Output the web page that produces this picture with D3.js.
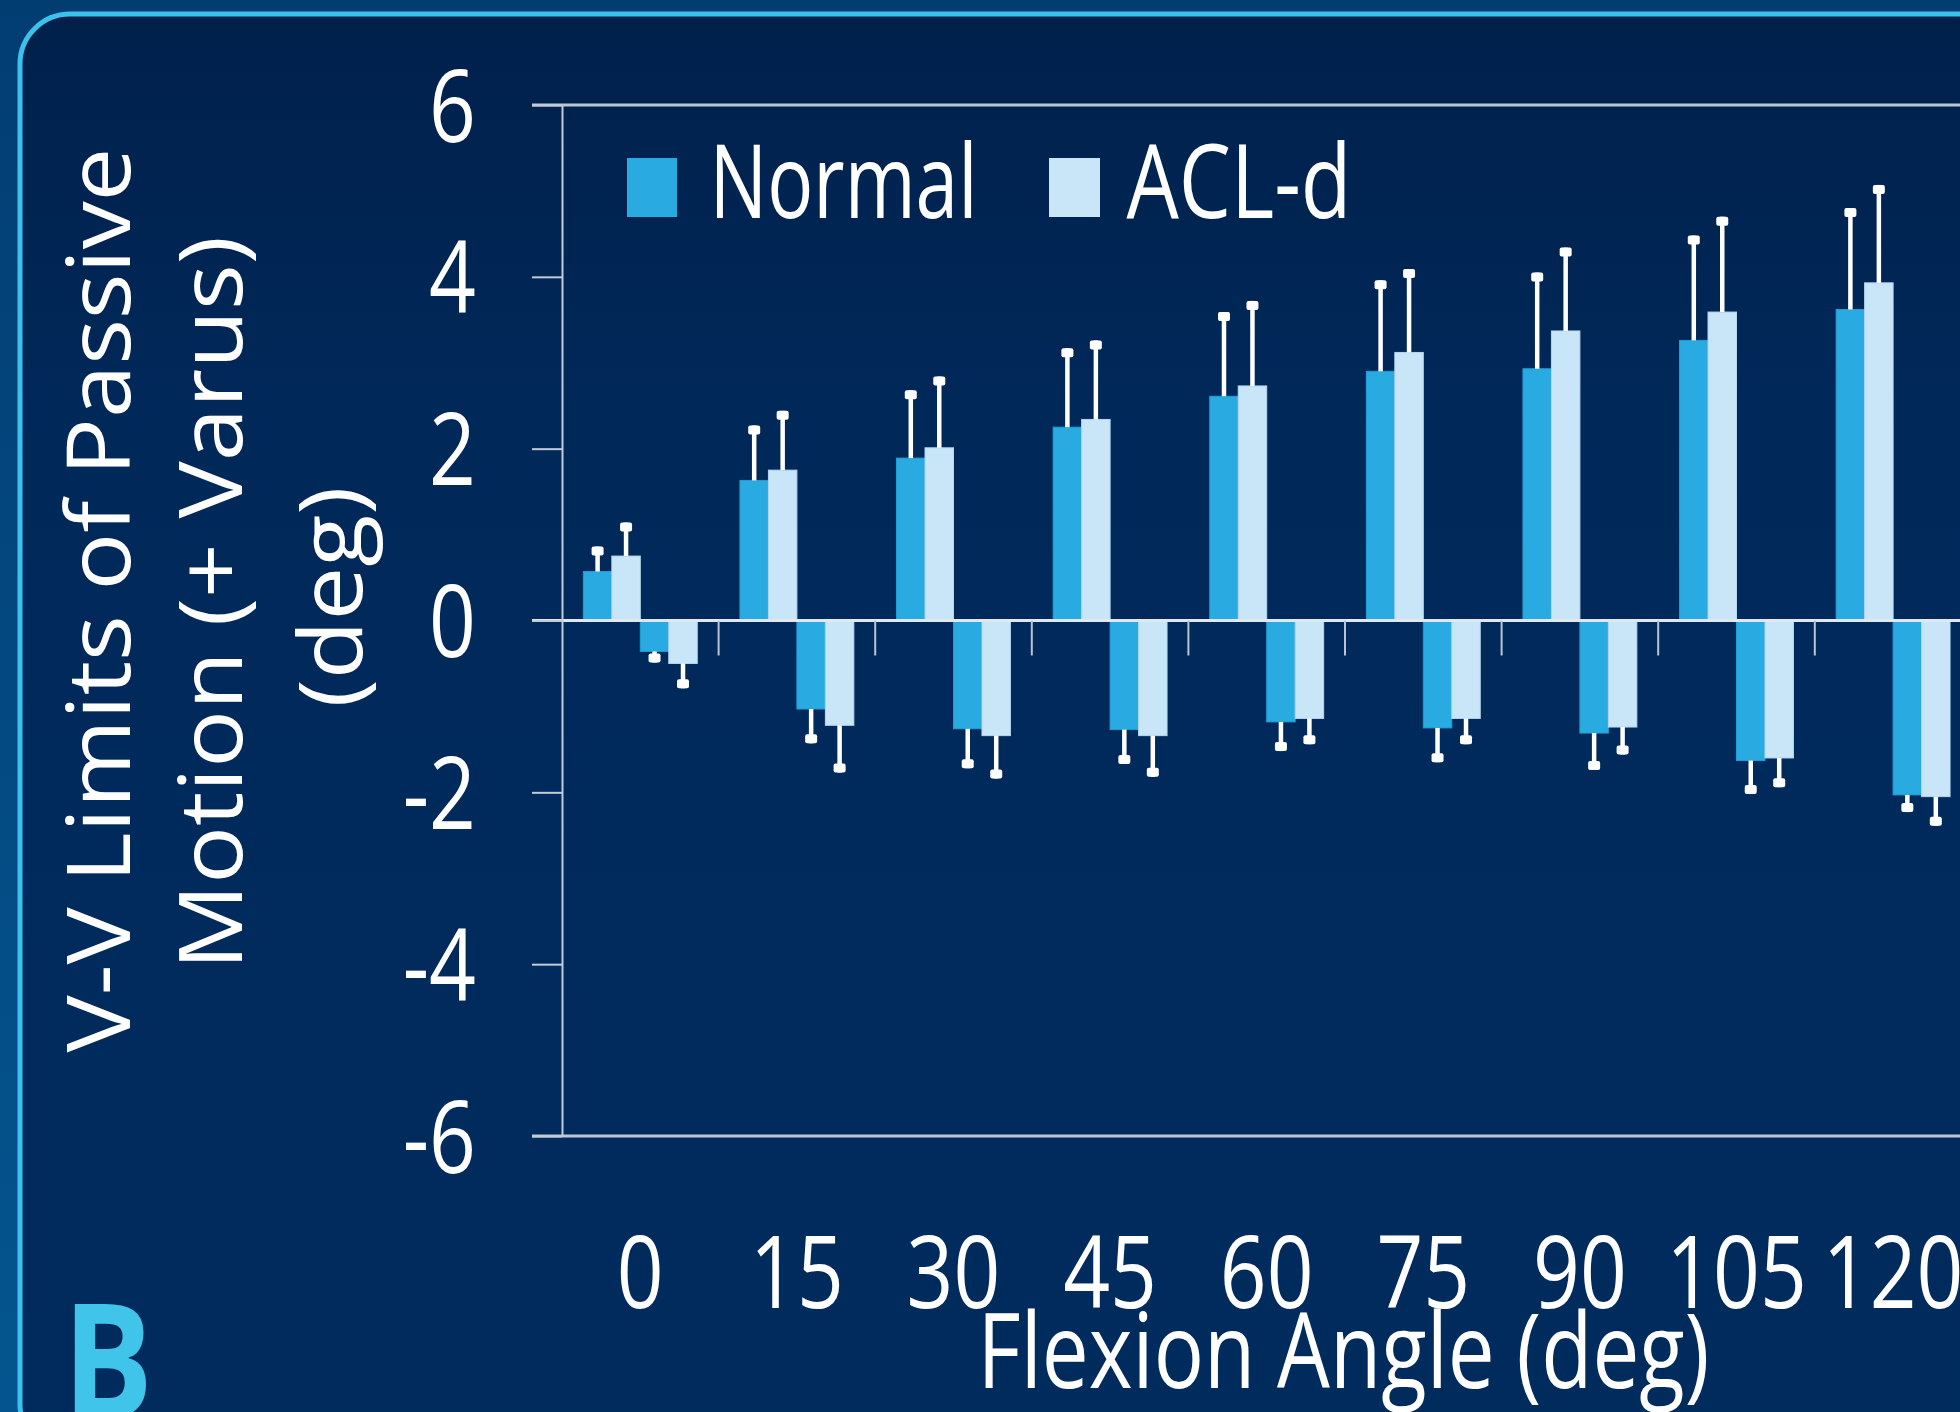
<!DOCTYPE html>
<html>
<head>
<meta charset="utf-8">
<script src="https://cdn.jsdelivr.net/npm/d3@7"></script>
<style>
  html, body { margin: 0; padding: 0; background: #03467c; }
  svg { display: block; }
  text { font-family: "Open Sans", "Noto Sans", sans-serif; fill: #ffffff; }
</style>
</head>
<body>
<svg id="chart" width="1960" height="1412"></svg>
<script>
// ---- data ----
const angles = [0, 15, 30, 45, 60, 75, 90, 105, 120];
const normalVarus   = [0.57, 1.63, 1.89, 2.25, 2.61, 2.90, 2.93, 3.26, 3.62];
const normalVarusSD = [0.29, 0.64, 0.79, 0.92, 0.98, 1.06, 1.12, 1.22, 1.18];
const aclVarus      = [0.75, 1.75, 2.01, 2.34, 2.73, 3.12, 3.37, 3.59, 3.93];
const aclVarusSD    = [0.39, 0.69, 0.83, 0.92, 0.99, 0.97, 0.97, 1.11, 1.14];
const normalValgus   = [-0.36, -1.03, -1.26, -1.27, -1.18, -1.25, -1.31, -1.63, -2.03];
const normalValgusSD = [0.13, 0.40, 0.46, 0.40, 0.34, 0.40, 0.43, 0.39, 0.20];
const aclValgus      = [-0.50, -1.22, -1.34, -1.34, -1.14, -1.14, -1.24, -1.60, -2.05];
const aclValgusSD    = [0.29, 0.55, 0.50, 0.48, 0.30, 0.30, 0.32, 0.34, 0.34];
const yTicks = [6, 4, 2, 0, -2, -4, -6];
const seriesNames = ["Normal", "ACL-d"];
const yTitleLines = ["V-V Limits of Passive", "Motion (+ Varus)", "(deg)"];
const xTitle = "Flexion Angle (deg)";
const panelLetter = "B";

// ---- styles ----
const cNormal = "#29abe2", cACL = "#c9e6f8";

const svg = d3.select("#chart");
const defs = svg.append("defs");
const gOut = defs.append("linearGradient").attr("id", "gOut").attr("x1", 0).attr("y1", 0).attr("x2", 0).attr("y2", 1);
gOut.append("stop").attr("offset", "0%").attr("stop-color", "#023d72");
gOut.append("stop").attr("offset", "100%").attr("stop-color", "#04558f");
const gIn = defs.append("linearGradient").attr("id", "gIn").attr("x1", 0).attr("y1", 0).attr("x2", 0).attr("y2", 1);
gIn.append("stop").attr("offset", "0%").attr("stop-color", "#00204b");
gIn.append("stop").attr("offset", "30%").attr("stop-color", "#00295a");
gIn.append("stop").attr("offset", "100%").attr("stop-color", "#002c5d");

svg.append("rect").attr("width", 1960).attr("height", 1412).attr("fill", "url(#gOut)");
svg.append("rect").attr("x", 20).attr("y", 14).attr("width", 2000).attr("height", 1440)
  .attr("rx", 50).attr("fill", "url(#gIn)").attr("stroke", "#3cc0ec").attr("stroke-width", 5);

// ---- scales ----
const x = d3.scaleBand().domain(angles).range([562, 562 + 9 * 156.6]).padding(0);
const sub = d3.scaleBand().domain(["nV", "aV", "nG", "aG"]).range([0, x.bandwidth()])
  .paddingInner(0).paddingOuter(0.75);
const y = d3.scaleLinear().domain([-6, 6]).range([1136, 105]);

const series = [
  { key: "nV", vals: normalVarus, sd: normalVarusSD, color: cNormal, stroke: "#1f9fd8" },
  { key: "aV", vals: aclVarus, sd: aclVarusSD, color: cACL, stroke: "#b5d7ee" },
  { key: "nG", vals: normalValgus, sd: normalValgusSD, color: cNormal, stroke: "#1f9fd8" },
  { key: "aG", vals: aclValgus, sd: aclValgusSD, color: cACL, stroke: "#b5d7ee" }
];

// ---- bars ----
const gBars = svg.append("g");
series.forEach(s => {
  gBars.selectAll(null).data(angles).enter().append("rect")
    .attr("x", (a) => x(a) + sub(s.key))
    .attr("width", sub.bandwidth())
    .attr("y", (a, i) => Math.min(y(s.vals[i]), y(0)))
    .attr("height", (a, i) => Math.abs(y(s.vals[i]) - y(0)))
    .attr("fill", s.color).attr("stroke", s.stroke).attr("stroke-width", 1);
});

// ---- frame lines ----
[6, -6].forEach(v => {
  svg.append("line").attr("x1", 532).attr("x2", 1960).attr("y1", y(v)).attr("y2", y(v))
    .attr("stroke", "#bcc7d6").attr("stroke-width", 3);
});
svg.append("line").attr("x1", 532).attr("x2", 1960).attr("y1", y(0)).attr("y2", y(0))
  .attr("stroke", "#dfe7f0").attr("stroke-width", 3);

// separator ticks on zero line
svg.selectAll(null).data(angles.slice(1)).enter().append("line")
  .attr("x1", a => x(a)).attr("x2", a => x(a))
  .attr("y1", y(0)).attr("y2", y(0) + 35)
  .attr("stroke", "#b9c4d2").attr("stroke-width", 2);

// ---- error bars ----
const gErr = svg.append("g");
series.forEach(s => {
  angles.forEach((a, i) => {
    const cx = x(a) + sub(s.key) + sub.bandwidth() / 2;
    const v = s.vals[i];
    const end = v >= 0 ? v + s.sd[i] : v - s.sd[i];
    gErr.append("line").attr("x1", cx).attr("x2", cx).attr("y1", y(v)).attr("y2", y(end))
      .attr("stroke", "#ffffff").attr("stroke-width", 4.5);
    gErr.append("rect").attr("x", cx - 6).attr("width", 12)
      .attr("y", v >= 0 ? y(end) : y(end) - 9).attr("height", 9).attr("rx", 2)
      .attr("fill", "#ffffff");
  });
});

// ---- y axis ----
const yAxis = d3.axisLeft(y).tickValues(yTicks).tickSize(30).tickSizeOuter(0)
  .tickFormat(d => String(d));
const gy = svg.append("g").attr("transform", "translate(562,0)").call(yAxis);
gy.select(".domain").attr("stroke", "#c2ccd9").attr("stroke-width", 2);
gy.selectAll(".tick line").attr("stroke", "#c2ccd9").attr("stroke-width", 2);
const tickScale = 0.82;
gy.selectAll(".tick text")
  .attr("font-size", 100).attr("fill", "#ffffff")
  .attr("x", -86 / tickScale).attr("dy", "0.36em")
  .attr("transform", `scale(${tickScale},1)`);

// ---- x axis labels ----
const xAxis = d3.axisBottom(x).tickSize(0).tickFormat(d => String(d));
const gx = svg.append("g").attr("transform", `translate(0,${y(-6)})`).call(xAxis);
gx.select(".domain").remove();
gx.selectAll(".tick text")
  .attr("font-size", 100).attr("fill", "#ffffff")
  .attr("y", 1308 - y(-6)).attr("dy", 0)
  .attr("transform", `scale(${tickScale},1)`);

// ---- helper: horizontally fitted text ----
function fitText(txt, cx, baseline, size, targetW, rotate, weight) {
  const g = svg.append("g");
  const t = g.append("text").text(txt).attr("font-size", size)
    .attr("text-anchor", "middle").attr("font-weight", weight || 400);
  const w = t.node().getComputedTextLength();
  const s = targetW / w;
  if (rotate) {
    g.attr("transform", `translate(${cx},${baseline}) rotate(-90) scale(${s},1)`);
  } else {
    g.attr("transform", `translate(${cx},${baseline}) scale(${s},1)`);
  }
  return { g, t, s };
}

// ---- legend ----
svg.append("rect").attr("x", 627).attr("y", 158).attr("width", 50).attr("height", 59).attr("fill", cNormal);
svg.append("rect").attr("x", 1049).attr("y", 158).attr("width", 51).attr("height", 59).attr("fill", cACL);
fitText(seriesNames[0], 843.5, 218, 102, 268, false);
fitText(seriesNames[1], 1239, 218, 102, 225, false);

// ---- y title (rotated, 3 lines) ----
const l1 = fitText(yTitleLines[0], 130, 600, 88, 905, true);
[[yTitleLines[1], 242, 603], [yTitleLines[2], 362, 597]].forEach(([txt, bx, cy]) => {
  const g = svg.append("g").attr("transform", `translate(${bx},${cy}) rotate(-90) scale(${l1.s},1)`);
  g.append("text").text(txt).attr("font-size", 88).attr("text-anchor", "middle");
});

// ---- x title ----
fitText(xTitle, 1343.5, 1388, 105, 732, false);

// ---- panel letter ----
const b = svg.append("g").attr("transform", "translate(108,1418) scale(0.84,1)");
b.append("text").text(panelLetter).attr("font-size", 160).attr("font-weight", 700)
  .attr("text-anchor", "middle").style("fill", "#40c4ea");
</script>
</body>
</html>
